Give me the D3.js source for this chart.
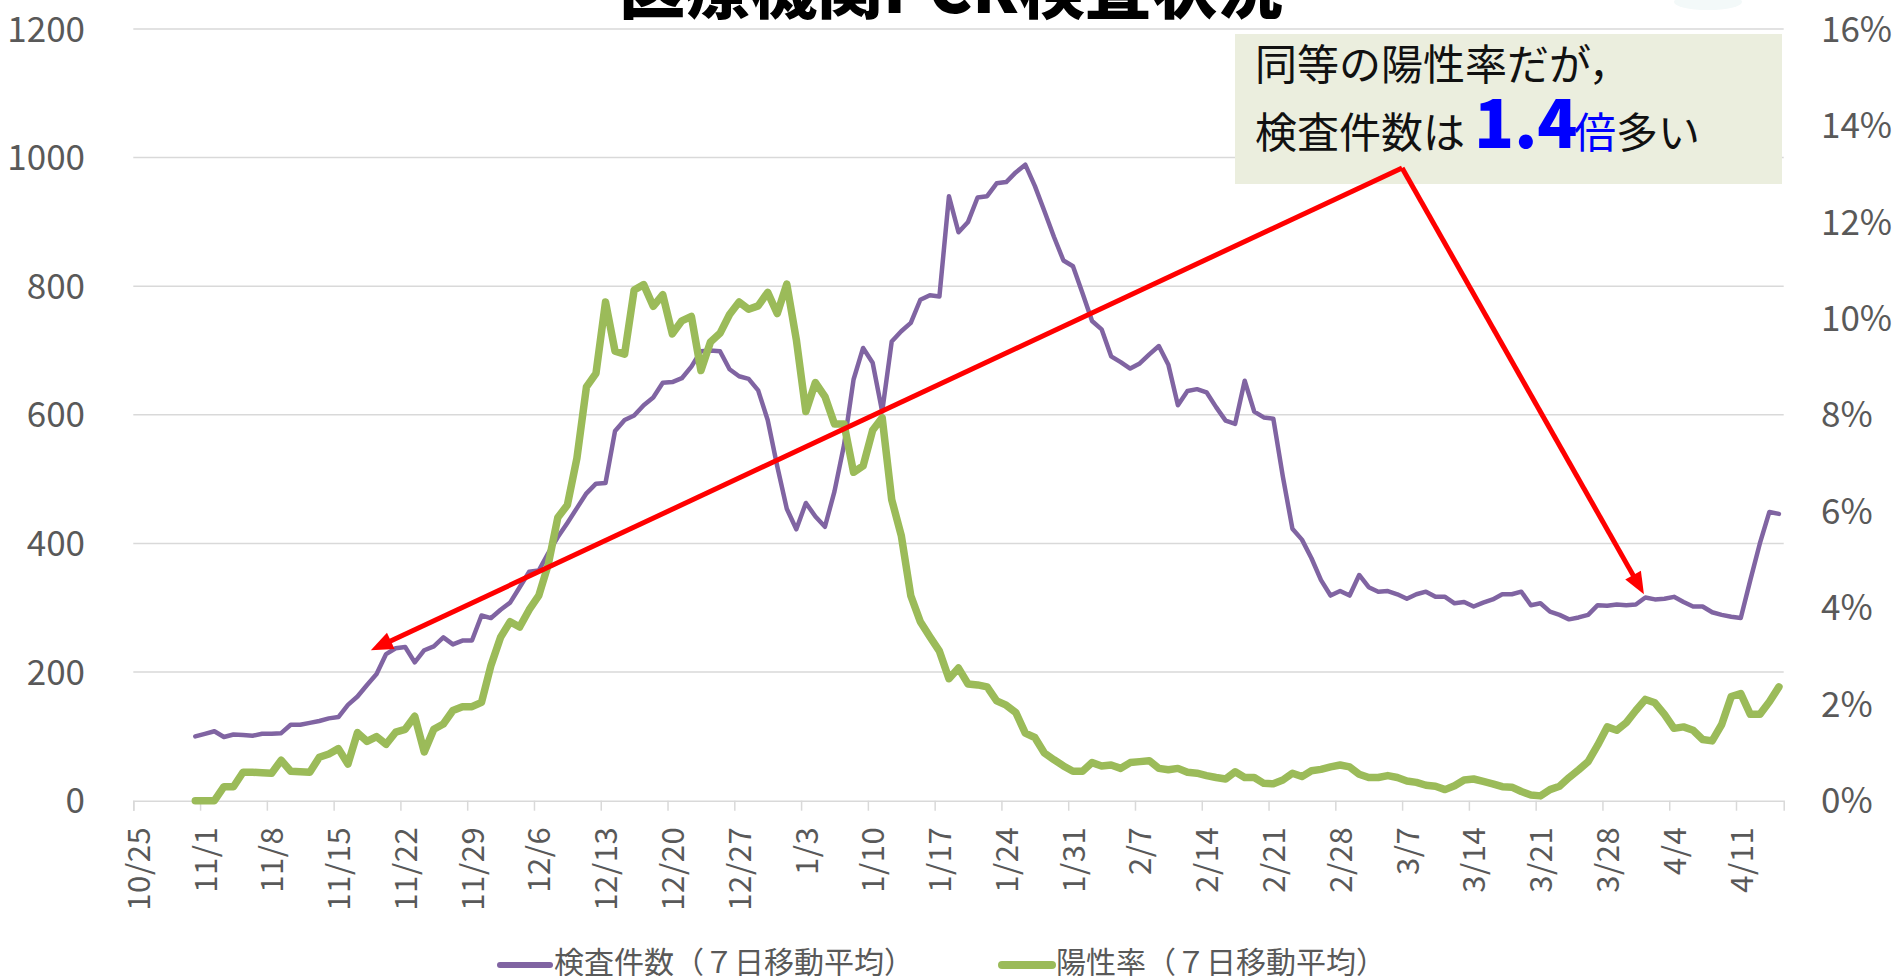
<!DOCTYPE html>
<html><head><meta charset="utf-8">
<script src="https://cdn.jsdelivr.net/npm/d3@7"></script>
<style>
html,body{margin:0;padding:0;background:#fff;overflow:hidden}
svg{display:block}
text{font-family:"Noto Sans CJK JP","Noto Sans",sans-serif}
</style></head><body>
<svg id="chart" width="1897" height="976"></svg>
<script>
// ---- data ----
const firstDate = [2020, 9, 31];      // 10/31 (UTC y, m0, d)
const axisStartDate = [2020, 9, 25];  // 10/25
const axisEndDate = [2021, 3, 16];    // 4/16
const tickLabels = ["10/25","11/1","11/8","11/15","11/22","11/29","12/6","12/13","12/20","12/27","1/3","1/10","1/17","1/24","1/31","2/7","2/14","2/21","2/28","3/7","3/14","3/21","3/28","4/4","4/11"];
const testCounts = [100,104,108,99,103,102,101,104,104,105,118,118,121,124,128,130,149,162,180,197,228,237,239,215,234,240,254,243,249,249,288,284,297,308,332,356,358,385,410,432,455,478,493,494,575,592,599,615,627,650,651,657,675,699,700,699,671,660,656,638,592,520,454,422,463,442,426,481,553,655,704,681,605,714,730,743,779,786,784,940,884,900,938,940,960,962,977,989,956,917,877,840,831,789,746,733,691,682,672,680,694,707,678,615,637,640,635,612,591,586,653,605,596,594,504,423,406,377,343,319,326,319,351,332,325,326,321,314,321,325,317,317,307,309,302,308,313,321,321,325,304,307,294,289,282,285,289,304,303,305,304,305,316,313,314,317,309,302,302,293,289,286,284,343,400,449,446];
const positiveRates = [0,0,0,0.29,0.29,0.59,0.59,0.58,0.57,0.84,0.61,0.60,0.59,0.90,0.97,1.08,0.76,1.41,1.23,1.33,1.17,1.42,1.48,1.75,1.01,1.48,1.59,1.87,1.95,1.95,2.04,2.81,3.39,3.71,3.60,3.96,4.25,4.90,5.87,6.13,7.10,8.58,8.86,10.34,9.32,9.26,10.59,10.70,10.25,10.49,9.68,9.95,10.04,8.92,9.51,9.69,10.08,10.34,10.19,10.26,10.54,10.10,10.71,9.56,8.07,8.67,8.38,7.81,7.81,6.81,6.94,7.68,7.94,6.24,5.50,4.25,3.71,3.40,3.10,2.53,2.75,2.42,2.40,2.36,2.07,1.98,1.83,1.40,1.31,0.99,0.85,0.72,0.61,0.61,0.79,0.72,0.74,0.67,0.79,0.81,0.83,0.67,0.64,0.67,0.59,0.57,0.52,0.48,0.45,0.60,0.48,0.48,0.36,0.35,0.43,0.57,0.50,0.62,0.65,0.70,0.74,0.70,0.55,0.48,0.48,0.52,0.48,0.41,0.38,0.32,0.30,0.23,0.31,0.43,0.45,0.40,0.35,0.29,0.28,0.19,0.12,0.10,0.23,0.30,0.48,0.64,0.81,1.15,1.53,1.46,1.62,1.87,2.10,2.03,1.79,1.50,1.53,1.46,1.27,1.24,1.58,2.16,2.22,1.79,1.79,2.05,2.36];
const seriesNames = ["検査件数（７日移動平均）","陽性率（７日移動平均）"];
const leftTicks = [0,200,400,600,800,1000,1200];
const rightTicks = [0,2,4,6,8,10,12,14,16];
const titleText = "医療機関PCR検査状況";
// annotation anchor points in data space: [days from 10/25, count value]
const arrowOrigin = [133, 984];
const arrowTips = [[24.9, 234], [158.35, 321]];

// ---- layout ----
const svg = d3.select("#chart");
const plot = {left:133.3, right:1783.7, top:29, bottom:800.7};
const utc = a => new Date(Date.UTC(a[0], a[1], a[2]));
const DAY = 864e5;
const dates = d3.utcDay.range(utc(firstDate), utc(axisEndDate));
const x = d3.scaleUtc().domain([utc(axisStartDate), utc(axisEndDate)]).range([plot.left, plot.right]);
const xc = d => x(new Date(d.getTime() + DAY/2));
const yL = d3.scaleLinear().domain([0,1200]).range([plot.bottom, plot.top]);
const yR = d3.scaleLinear().domain([0,16]).range([plot.bottom, plot.top]);
const dayX = n => x(new Date(utc(axisStartDate).getTime() + n*DAY));

const gray = "#595959";

// gridlines
svg.append("g").selectAll("line").data(leftTicks.filter(v=>v>0)).join("line")
  .attr("x1", plot.left).attr("x2", plot.right)
  .attr("y1", d=>yL(d)).attr("y2", d=>yL(d))
  .attr("stroke", "#D9D9D9").attr("stroke-width", 1.5);

// x axis
const tickDates = tickLabels.map((t,i)=> new Date(utc(axisStartDate).getTime() + i*7*DAY));
const xAxis = d3.axisBottom(x).tickValues(tickDates).tickSize(10).tickFormat((d,i)=>tickLabels[i]);
const gx = svg.append("g").attr("transform", `translate(0,${plot.bottom})`).call(xAxis);
gx.select(".domain").attr("stroke", "#D9D9D9").attr("stroke-width", 1.5);
gx.selectAll(".tick line").attr("stroke", "#D9D9D9").attr("stroke-width", 1.5);
gx.selectAll(".tick text")
  .attr("fill", gray).attr("font-size", 31).attr("font-family", '"Noto Sans CJK JP"')
  .attr("letter-spacing", 0.6)
  .attr("text-anchor", "end").attr("dy", null).attr("y", null)
  .attr("transform", "translate(16,26) rotate(-90)");

// left axis labels
svg.append("g").selectAll("text").data(leftTicks).join("text")
  .attr("x", 85).attr("y", d=>yL(d)).attr("dy", "0.36em")
  .attr("text-anchor", "end").attr("fill", gray).attr("font-size", 35)
  .text(d=>d);
// right axis labels
svg.append("g").selectAll("text").data(rightTicks).join("text")
  .attr("x", 1821).attr("y", d=>yR(d)).attr("dy", "0.36em")
  .attr("text-anchor", "start").attr("fill", gray).attr("font-size", 35)
  .text(d=>d + "%");

// lines
const purple = "#8064A2", green = "#9BBB59";
const lineL = d3.line().x((d,i)=>xc(dates[i])).y(d=>yL(d));
const lineR = d3.line().x((d,i)=>xc(dates[i])).y(d=>yR(d));
svg.append("path").datum(testCounts).attr("d", lineL)
  .attr("fill","none").attr("stroke",purple).attr("stroke-width",4.5)
  .attr("stroke-linejoin","round").attr("stroke-linecap","round");
svg.append("path").datum(positiveRates).attr("d", lineR)
  .attr("fill","none").attr("stroke",green).attr("stroke-width",7.5)
  .attr("stroke-linejoin","round").attr("stroke-linecap","round");

// title (cut at top)
svg.append("text").attr("x", 951).attr("y", 13).attr("text-anchor","middle")
  .attr("font-size", 66).attr("font-weight", 900).attr("fill","#000").text(titleText);

// faint object top right
svg.append("ellipse").attr("cx",1708).attr("cy",2).attr("rx",34).attr("ry",8).attr("fill","#f3f9f9");

// annotation box
svg.append("rect").attr("x",1235).attr("y",34).attr("width",547).attr("height",150).attr("fill","#EBEEDE");
svg.append("text").attr("x",1255).attr("y",80).attr("font-size",42).attr("fill","#111").text("同等の陽性率だが，");
const t2 = svg.append("text").attr("y",148).attr("font-size",42).attr("fill","#111");
t2.append("tspan").attr("x",1255).text("検査件数は");
t2.append("tspan").attr("x",1474).attr("font-size",66).attr("font-weight",900).attr("fill","#0000FF").text("1.4");
t2.append("tspan").attr("x",1574).attr("fill","#0000FF").text("倍");
t2.append("tspan").attr("x",1616).text("多い");

// red arrows
const ox = dayX(arrowOrigin[0]), oy = yL(arrowOrigin[1]);
arrowTips.forEach(tp => {
  const tx = dayX(tp[0]), ty = yL(tp[1]);
  const dx = tx-ox, dy = ty-oy, L = Math.hypot(dx,dy), ux = dx/L, uy = dy/L;
  const hl = 22, hw = 9;
  const bx = tx - ux*hl, by = ty - uy*hl;
  svg.append("line").attr("x1",ox).attr("y1",oy).attr("x2",bx+ux*2).attr("y2",by+uy*2)
    .attr("stroke","#FF0000").attr("stroke-width",5);
  svg.append("polygon").attr("points", [[tx,ty],[bx - uy*hw, by + ux*hw],[bx + uy*hw, by - ux*hw]].map(p=>p.join(",")).join(" "))
    .attr("fill","#FF0000");
});

// legend
const legend = [{name:seriesNames[0], color:purple, w:6, x:500},{name:seriesNames[1], color:green, w:8, x:1002}];
const lg = svg.append("g");
legend.forEach(l=>{
  lg.append("line").attr("x1",l.x).attr("x2",l.x+50).attr("y1",965).attr("y2",965)
    .attr("stroke",l.color).attr("stroke-width",l.w).attr("stroke-linecap","round");
  lg.append("text").attr("x",l.x+54).attr("y",973).attr("font-size",30).attr("fill",gray).text(l.name);
});
</script></body></html>
